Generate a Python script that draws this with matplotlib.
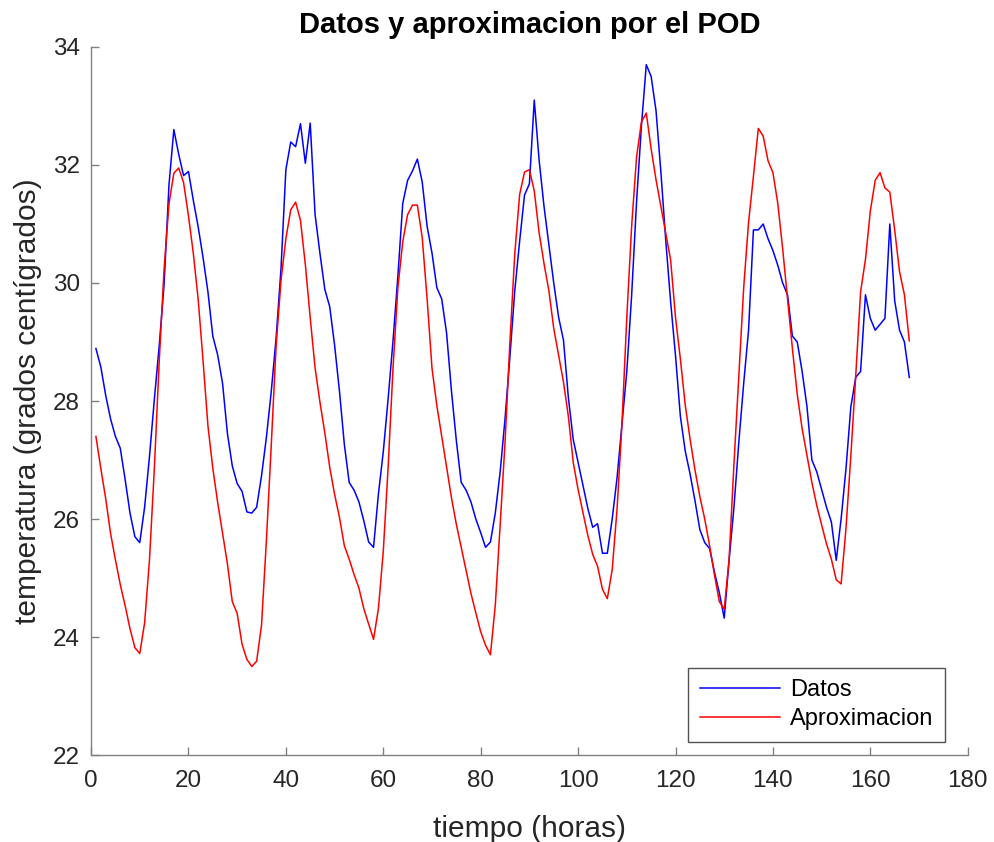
import numpy as np
import matplotlib
matplotlib.use("Agg")
import matplotlib.pyplot as plt

plt.rcParams["font.family"] = ["Liberation Sans", "DejaVu Sans"]

# horas 1..168
horas = np.arange(1, 169)

datos = [
    28.89, 28.58, 28.10, 27.70, 27.40, 27.20, 26.67, 26.10, 25.70, 25.60,
    26.20, 27.06, 28.03, 28.94, 29.98, 31.66, 32.60, 32.18, 31.82, 31.89,
    31.40, 30.95, 30.43, 29.85, 29.10, 28.78, 28.30, 27.45, 26.90, 26.60,
    26.47, 26.12, 26.10, 26.20, 26.73, 27.38, 28.16, 29.07, 30.24, 31.92,
    32.39, 32.31, 32.70, 32.03, 32.71, 31.16, 30.50, 29.89, 29.60, 28.95,
    28.17, 27.27, 26.62, 26.49, 26.29, 25.97, 25.61, 25.52, 26.42, 27.14,
    28.04, 29.02, 30.12, 31.35, 31.74, 31.90, 32.10, 31.71, 30.96, 30.51,
    29.92, 29.73, 29.15, 28.17, 27.33, 26.62, 26.49, 26.29, 26.00, 25.77,
    25.52, 25.61, 26.10, 26.80, 27.70, 28.75, 29.87, 30.71, 31.49, 31.68,
    33.10, 32.08, 31.30, 30.65, 30.00, 29.42, 29.03, 28.06, 27.35, 26.96,
    26.57, 26.18, 25.86, 25.92, 25.42, 25.42, 26.00, 26.70, 27.60, 28.50,
    29.80, 31.37, 32.66, 33.70, 33.50, 32.92, 31.88, 30.72, 29.68, 28.77,
    27.74, 27.15, 26.76, 26.31, 25.82, 25.60, 25.50, 25.10, 24.75, 24.32,
    25.30, 26.20, 27.30, 28.30, 29.20, 30.90, 30.90, 31.00, 30.75, 30.55,
    30.30, 30.00, 29.80, 29.10, 29.00, 28.50, 27.90, 27.00, 26.80, 26.50,
    26.20, 25.95, 25.30, 26.00, 26.85, 27.90, 28.40, 28.50, 29.80, 29.40,
    29.20, 29.30, 29.40, 31.00, 29.70, 29.20, 29.00, 28.40,
]

aproximacion = [
    27.40, 26.86, 26.35, 25.76, 25.31, 24.89, 24.53, 24.14, 23.82, 23.72,
    24.24, 25.31, 26.86, 28.68, 30.24, 31.34, 31.86, 31.95, 31.70, 31.14,
    30.50, 29.72, 28.68, 27.58, 26.86, 26.28, 25.76, 25.24, 24.60, 24.40,
    23.88, 23.62, 23.50, 23.59, 24.20, 25.63, 27.25, 28.94, 30.04, 30.75,
    31.24, 31.37, 31.06, 30.31, 29.41, 28.56, 27.98, 27.46, 26.88, 26.42,
    26.03, 25.55, 25.32, 25.06, 24.83, 24.48, 24.22, 23.96, 24.48, 25.45,
    26.88, 28.56, 29.92, 30.70, 31.16, 31.32, 31.32, 30.77, 29.73, 28.56,
    27.92, 27.40, 26.88, 26.36, 25.91, 25.52, 25.13, 24.74, 24.41, 24.09,
    23.86, 23.70, 24.54, 25.90, 27.30, 29.00, 30.50, 31.50, 31.88, 31.92,
    31.56, 30.85, 30.33, 29.87, 29.23, 28.77, 28.32, 27.74, 26.96, 26.50,
    26.11, 25.72, 25.40, 25.20, 24.81, 24.65, 25.14, 26.17, 27.60, 29.42,
    30.97, 32.13, 32.73, 32.88, 32.27, 31.75, 31.30, 30.85, 30.39, 29.42,
    28.71, 27.93, 27.35, 26.83, 26.38, 26.00, 25.55, 25.05, 24.60, 24.47,
    25.31, 26.93, 28.42, 29.92, 31.03, 31.81, 32.62, 32.49, 32.07, 31.87,
    31.35, 30.58, 29.73, 28.89, 28.11, 27.53, 27.07, 26.62, 26.23, 25.90,
    25.58, 25.32, 24.97, 24.90, 25.84, 27.07, 28.42, 29.85, 30.40, 31.22,
    31.74, 31.87, 31.61, 31.54, 30.90, 30.19, 29.80, 29.02,
]

fig = plt.figure(figsize=(9.95, 8.42), dpi=100)
ax = fig.add_axes([0.0915, 0.1033, 0.8811, 0.8409])

ax.plot(horas, datos, color="blue", linewidth=1.1, label="Datos")
ax.plot(horas, aproximacion, color="red", linewidth=1.1, label="Aproximacion")

ax.set_xlim(0, 180)
ax.set_ylim(22, 34)
ax.set_xticks(np.arange(0, 181, 20))
ax.set_yticks(np.arange(22, 35, 2))

ax.spines["top"].set_visible(False)
ax.spines["right"].set_visible(False)
for s in ["left", "bottom"]:
    ax.spines[s].set_color("#808080")
    ax.spines[s].set_linewidth(1.0)
ax.tick_params(direction="in", length=6, width=1.0, color="#808080",
               labelcolor="#262626", labelsize=17.5)
ax.tick_params(axis="x", pad=11)
ax.tick_params(axis="y", pad=8)

ax.set_title("Datos y aproximacion por el POD", fontsize=21, fontweight="bold", pad=10)
ax.set_xlabel("tiempo (horas)", fontsize=21.5, color="#262626", labelpad=16)
ax.set_ylabel("temperatura (grados centígrados)", fontsize=21.5, color="#262626", labelpad=8)

leg = ax.legend(loc="lower right", fontsize=17, frameon=True, fancybox=False,
                handlelength=3.4, handletextpad=0.4, borderaxespad=0,
                bbox_to_anchor=(0.974, 0.018), borderpad=0.5, labelspacing=0.3)
leg.get_frame().set_edgecolor("#262626")
leg.get_frame().set_linewidth(1.0)

fig.savefig("out.png", dpi=100)
